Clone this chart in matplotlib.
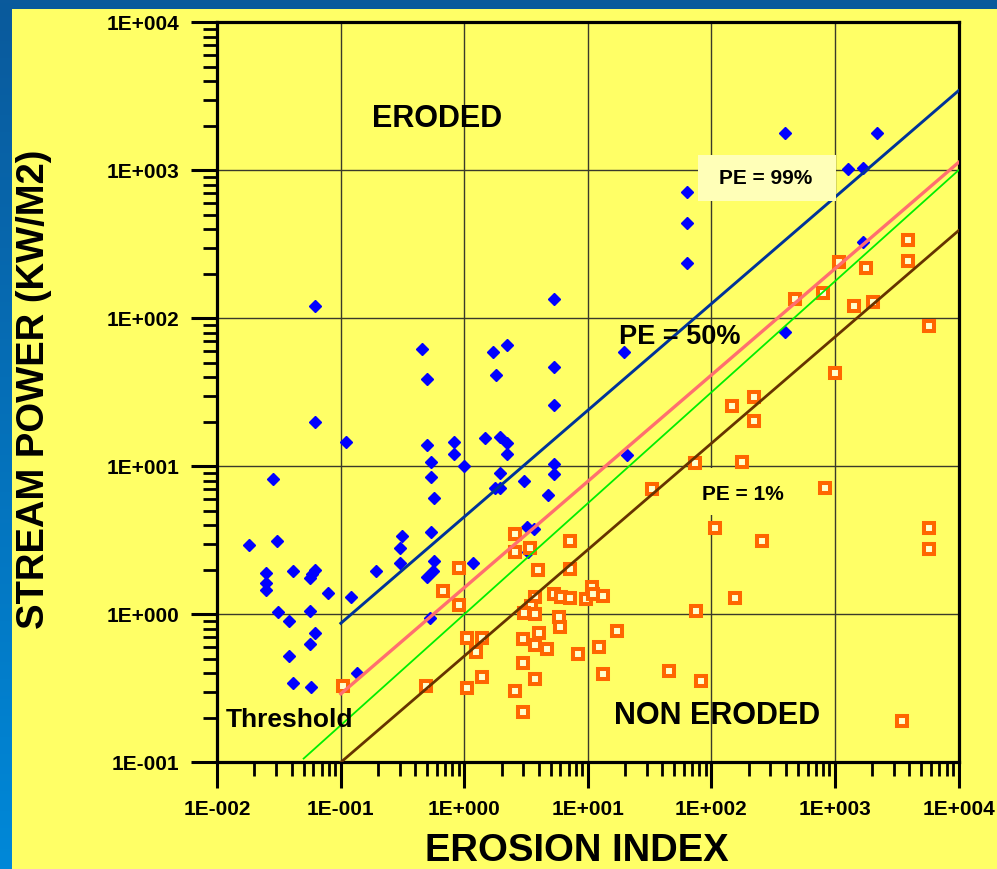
import numpy as np
import matplotlib
matplotlib.use("Agg")
import matplotlib.pyplot as plt
from matplotlib.patches import Rectangle
from matplotlib.colors import LinearSegmentedColormap
from matplotlib.ticker import LogLocator, FuncFormatter, NullFormatter

plt.rcParams['font.family'] = ['Liberation Sans', 'DejaVu Sans']
plt.rcParams['font.weight'] = 'bold'

# eroded sites (blue diamonds)
eroded_x = [0.0181, 0.0307, 0.0284, 0.0248, 0.0246, 0.0248, 0.0410, 0.0617, 0.0589, 0.0562,
            0.0787, 0.120, 0.193, 0.311, 0.301, 0.302, 0.0308, 0.0565, 0.0384, 0.0620,
            0.0565, 0.0384, 0.0410, 0.0573, 0.135, 0.0617, 0.0617, 0.110, 5.36, 0.455,
            0.500, 1.71, 2.21, 1.82, 5.36, 5.36, 0.500, 0.826, 0.825, 0.536,
            1.00, 0.534, 0.567, 1.47, 1.94, 2.20, 2.22, 1.95, 3.03, 1.78,
            1.94, 5.36, 5.36, 4.73, 0.534, 0.569, 0.562, 0.500, 1.18, 3.19,
            3.66, 3.27, 0.526, 19.7, 20.8, 63.6, 63.6, 63.6, 396, 2194,
            1278, 1671, 1690, 396]
eroded_y = [2.96, 3.12, 8.27, 1.89, 1.62, 1.45, 1.96, 1.99, 1.87, 1.76,
            1.39, 1.30, 1.96, 3.39, 2.81, 2.21, 1.03, 1.06, 0.905, 0.742,
            0.627, 0.519, 0.345, 0.322, 0.404, 122, 20.0, 14.7, 134, 62,
            38.9, 59.5, 66, 41.4, 46.7, 25.8, 13.9, 14.7, 12.05, 10.66,
            10.05, 8.43, 6.08, 15.6, 15.8, 14.4, 12.05, 8.97, 7.93, 7.19,
            7.10, 10.4, 8.84, 6.40, 3.58, 2.29, 1.96, 1.78, 2.21, 3.91,
            3.75, 2.65, 0.94, 58.9, 11.9, 714, 442, 235, 1796, 1796,
            1016, 1032, 329, 80.4]

# non eroded sites (orange squares)
non_x = [0.105, 2.55, 7.19, 2.55, 3.39, 0.904, 3.96, 7.19, 0.674, 0.904,
         3.72, 5.28, 6.08, 7.19, 9.69, 10.7, 11.0, 13.3, 3.46, 3.02,
         3.72, 5.86, 5.93, 1.05, 1.39, 1.24, 2.98, 3.99, 3.72, 4.66,
         8.35, 12.4, 17.3, 2.98, 1.39, 3.72, 13.3, 0.489, 1.05, 2.55,
         2.98, 992, 147, 220, 220, 73.4, 177, 33.1, 833, 107,
         257, 5780, 5780, 156, 75.2, 45.5, 82.9, 3475, 3908, 3908,
         1074, 1776, 473, 793, 1429, 2036, 5780]
non_y = [0.329, 3.47, 3.11, 2.65, 2.82, 2.05, 2.00, 2.02, 1.44, 1.16,
         1.30, 1.37, 1.30, 1.29, 1.27, 1.52, 1.37, 1.32, 1.14, 1.02,
         1.00, 0.954, 0.825, 0.695, 0.695, 0.559, 0.681, 0.751, 0.617, 0.580,
         0.537, 0.599, 0.771, 0.471, 0.375, 0.365, 0.395, 0.329, 0.319, 0.305,
         0.219, 42.5, 25.7, 29.3, 20.3, 10.5, 10.7, 7.06, 7.17, 3.81,
         3.13, 3.81, 2.76, 1.29, 1.05, 0.416, 0.356, 0.191, 340, 244,
         241, 218, 134, 148, 121, 128, 89]

# probability of erosion lines
pe99_x, pe99_y = [0.1, 1e4], [0.87, 3450]
pe50_x, pe50_y = [0.1, 1e4], [0.29, 1130]
thr_x, thr_y = [0.05, 1e4], [0.106, 1000]
pe1_x, pe1_y = [0.1, 1e4], [0.1, 391]

W, H = 997, 869
fig = plt.figure(figsize=(W / 100, H / 100), dpi=100)

# blue slide background with yellow panel
bg = fig.add_axes([0, 0, 1, 1], zorder=-10)
grad = np.linspace(0, 1, 256).reshape(-1, 1)
cmap = LinearSegmentedColormap.from_list('bg', ['#0a5a9c', '#0088d8'])
bg.imshow(grad, aspect='auto', cmap=cmap, extent=[0, 1, 0, 1])
bg.add_patch(Rectangle((12 / W, 0), 1, 1 - 9 / H, transform=bg.transAxes,
                       color='#ffff66', lw=0))
bg.set_xlim(0, 1)
bg.set_ylim(0, 1)
bg.axis('off')

ax = fig.add_axes([217.3 / W, 1 - 762.3 / H, 741.2 / W, 740 / H])
ax.set_facecolor('#ffff66')
ax.set_xscale('log')
ax.set_yscale('log')
ax.set_xlim(1e-2, 1e4)
ax.set_ylim(1e-1, 1e4)
ax.set_axisbelow(True)

ax.plot(eroded_x, eroded_y, ls='none', marker='D', ms=6.2, color='#0000ff',
        mec='#0000ff', zorder=2)
ax.plot(non_x, non_y, ls='none', marker='s', ms=6.6, mfc='#ffffcc',
        mec='#ff6600', mew=2.9, zorder=2)

ax.plot(pe99_x, pe99_y, color='#003399', lw=2.1, zorder=3)
ax.plot(pe50_x, pe50_y, color='#ff6f6f', lw=2.4, zorder=3)
ax.plot(thr_x, thr_y, color='#00ee00', lw=1.3, zorder=3)
ax.plot(pe1_x, pe1_y, color='#663300', lw=2.0, zorder=3)

ax.grid(which='major', color='#3a3a2a', lw=1.0)
ax.grid(which='minor', visible=False)

for s in ax.spines.values():
    s.set_linewidth(2.3)
    s.set_color('black')

ax.xaxis.set_major_locator(LogLocator(base=10, numticks=20))
ax.yaxis.set_major_locator(LogLocator(base=10, numticks=20))
ax.xaxis.set_minor_locator(LogLocator(base=10, subs=np.arange(2, 10), numticks=20))
ax.yaxis.set_minor_locator(LogLocator(base=10, subs=np.arange(2, 10), numticks=20))
fmt = FuncFormatter(lambda v, p: f"1E{int(round(np.log10(v))):+04d}")
ax.xaxis.set_major_formatter(fmt)
ax.yaxis.set_major_formatter(fmt)
ax.xaxis.set_minor_formatter(NullFormatter())
ax.yaxis.set_minor_formatter(NullFormatter())
ax.tick_params(which='major', direction='out', length=18.5, width=2.2,
               labelsize=15, pad=9)
ax.tick_params(which='minor', direction='out', length=10, width=2.0)
for lab in ax.get_xticklabels() + ax.get_yticklabels():
    lab.set_fontweight('bold')

# label boxes
ax.add_patch(Rectangle((0.648, 0.7585), 0.187, 0.062, transform=ax.transAxes,
                       facecolor='#ffffb8', edgecolor='none', zorder=3.5))
ax.add_patch(Rectangle((0.644, 0.334), 0.131, 0.0635, transform=ax.transAxes,
                       facecolor='#ffff66', edgecolor='none', zorder=1))

txt = dict(transform=ax.transAxes, ha='center', va='center', fontweight='bold',
           color='black', zorder=4)
ax.text(0.2966, 0.8693, 'ERODED', fontsize=22, **txt)
ax.text(0.674, 0.0626, 'NON ERODED', fontsize=22, **txt)
ax.text(0.0974, 0.0572, 'Threshold', fontsize=19, **txt)
ax.text(0.7396, 0.7889, 'PE = 99%', fontsize=15, **txt)
ax.text(0.624, 0.575, 'PE = 50%', fontsize=19.5, **txt)
ax.text(0.7095, 0.3625, 'PE = 1%', fontsize=15, **txt)

fig.text(577 / W, 1 - 851 / H, 'EROSION INDEX', ha='center', va='center',
         fontsize=27.5, fontweight='bold')
fig.text(34 / W, 1 - 389 / H, 'STREAM POWER (KW/M2)', ha='center', va='center',
         rotation=90, fontsize=27.5, fontweight='bold')

fig.savefig('out.png', dpi=100)
